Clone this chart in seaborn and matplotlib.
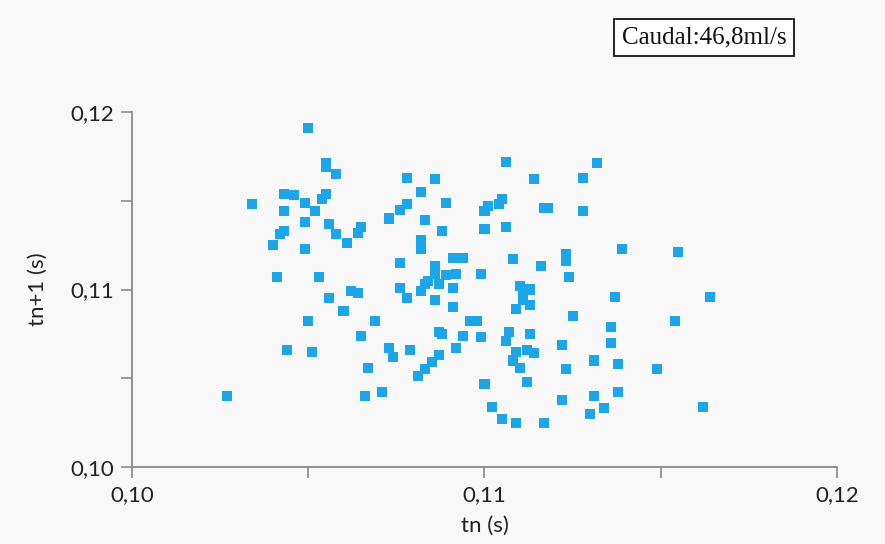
import matplotlib
matplotlib.use("Agg")
import matplotlib.pyplot as plt
import seaborn as sns
import pandas as pd

tn = [0.1050, 0.1055, 0.1055, 0.1058, 0.1055, 0.1054, 0.1043, 0.1046, 0.1049, 0.1034,
      0.1043, 0.1052, 0.1073, 0.1049, 0.1056, 0.1065, 0.1064, 0.1043, 0.1042, 0.1058,
      0.1061, 0.1040, 0.1049, 0.1041, 0.1053, 0.1062, 0.1064, 0.1056, 0.1060,
      0.1106, 0.1132, 0.1128, 0.1114, 0.1078, 0.1086, 0.1082, 0.1089, 0.1078, 0.1076,
      0.1083, 0.1088, 0.1101, 0.1100, 0.1105, 0.1104, 0.1117, 0.1118, 0.1128, 0.1100,
      0.1106, 0.1139, 0.1082, 0.1082, 0.1123, 0.1123, 0.1091, 0.1094, 0.1076, 0.1108,
      0.1116, 0.1124, 0.1099, 0.1086, 0.1086, 0.1089, 0.1092, 0.1083, 0.1084, 0.1087,
      0.1082, 0.1091, 0.1076, 0.1078, 0.1086, 0.1091, 0.1110, 0.1113, 0.1111, 0.1111,
      0.1113, 0.1109, 0.1137, 0.1125, 0.1136,
      0.1155, 0.1164, 0.1154,
      0.1069, 0.1050, 0.1065, 0.1044, 0.1051, 0.1067, 0.1066, 0.1027,
      0.1096, 0.1098, 0.1087, 0.1088, 0.1094, 0.1099, 0.1107, 0.1106, 0.1113, 0.1122,
      0.1136, 0.1073, 0.1074, 0.1079, 0.1087, 0.1092, 0.1085, 0.1083, 0.1081, 0.1071,
      0.1109, 0.1112, 0.1114, 0.1108, 0.1110, 0.1112, 0.1100, 0.1131, 0.1138, 0.1123,
      0.1122, 0.1131, 0.1134, 0.1130, 0.1138, 0.1102, 0.1105, 0.1109, 0.1117,
      0.1149, 0.1162]

tn1 = [0.1191, 0.1171, 0.1169, 0.1165, 0.1154, 0.1151, 0.1154, 0.1153, 0.1149, 0.1148,
       0.1144, 0.1144, 0.1140, 0.1138, 0.1137, 0.1135, 0.1132, 0.1133, 0.1131, 0.1131,
       0.1126, 0.1125, 0.1123, 0.1107, 0.1107, 0.1099, 0.1098, 0.1095, 0.1088,
       0.1172, 0.1171, 0.1163, 0.1162, 0.1163, 0.1162, 0.1155, 0.1149, 0.1148, 0.1145,
       0.1139, 0.1133, 0.1147, 0.1144, 0.1151, 0.1148, 0.1146, 0.1146, 0.1144, 0.1134,
       0.1135, 0.1123, 0.1128, 0.1123, 0.1120, 0.1116, 0.1118, 0.1118, 0.1115, 0.1117,
       0.1113, 0.1107, 0.1109, 0.1113, 0.1109, 0.1108, 0.1109, 0.1103, 0.1105, 0.1103,
       0.1099, 0.1101, 0.1101, 0.1095, 0.1094, 0.1090, 0.1102, 0.1100, 0.1097, 0.1094,
       0.1091, 0.1089, 0.1096, 0.1085, 0.1079,
       0.1121, 0.1096, 0.1082,
       0.1082, 0.1082, 0.1074, 0.1066, 0.1065, 0.1056, 0.1040, 0.1040,
       0.1082, 0.1082, 0.1076, 0.1075, 0.1074, 0.1073, 0.1076, 0.1071, 0.1075, 0.1069,
       0.1070, 0.1067, 0.1062, 0.1066, 0.1063, 0.1067, 0.1059, 0.1055, 0.1051, 0.1042,
       0.1065, 0.1066, 0.1064, 0.1060, 0.1056, 0.1048, 0.1047, 0.1060, 0.1058, 0.1055,
       0.1038, 0.1040, 0.1033, 0.1030, 0.1042, 0.1034, 0.1027, 0.1025, 0.1025,
       0.1055, 0.1034]

tick_values = [0.10, 0.105, 0.11, 0.115, 0.12]
tick_labels = ["0,10", "", "0,11", "", "0,12"]
x_label = "tn (s)"
y_label = "tn+1 (s)"
title_text = "Caudal:46,8ml/s"

sns.set_style("white")
plt.rcParams["font.family"] = ["Lato", "DejaVu Sans"]

df = pd.DataFrame({"tn": tn, "tn1": tn1})

bg = "#f8f8f8"
fig = plt.figure(figsize=(8.85, 5.44), dpi=100, facecolor=bg)
ax = fig.add_axes([132 / 885, 1 - 467 / 544, 705 / 885, 355 / 544])
ax.set_facecolor(bg)

sns.scatterplot(data=df, x="tn", y="tn1", ax=ax, marker="s", s=52,
                color="#1ba6ea", edgecolor="none", linewidth=0)

ax.set_xlim(0.10, 0.12)
ax.set_ylim(0.10, 0.12)
ax.set_xticks(tick_values)
ax.set_xticklabels(tick_labels)
ax.set_yticks(tick_values)
ax.set_yticklabels(tick_labels)
ax.tick_params(axis="both", which="major", bottom=True, left=True,
               direction="out", length=8, width=1.2,
               color="#8a8a8a", labelsize=16, labelcolor="#222222", pad=5)
for side in ["top", "right"]:
    ax.spines[side].set_visible(False)
for side in ["left", "bottom"]:
    ax.spines[side].set_color("#8a8a8a")
    ax.spines[side].set_linewidth(1.3)

ax.set_xlabel(x_label, fontsize=16, color="#222222", labelpad=8)
ax.set_ylabel(y_label, fontsize=16, color="#222222", labelpad=16)

fig.text(704 / 885, 1 - 37 / 544, title_text, ha="center", va="center",
         fontsize=18, family=["Liberation Serif", "DejaVu Serif"], color="#111111",
         bbox=dict(boxstyle="square,pad=0.3", fc="white", ec="#111111", lw=1.3))

fig.savefig("out.png", dpi=100, facecolor=bg)
